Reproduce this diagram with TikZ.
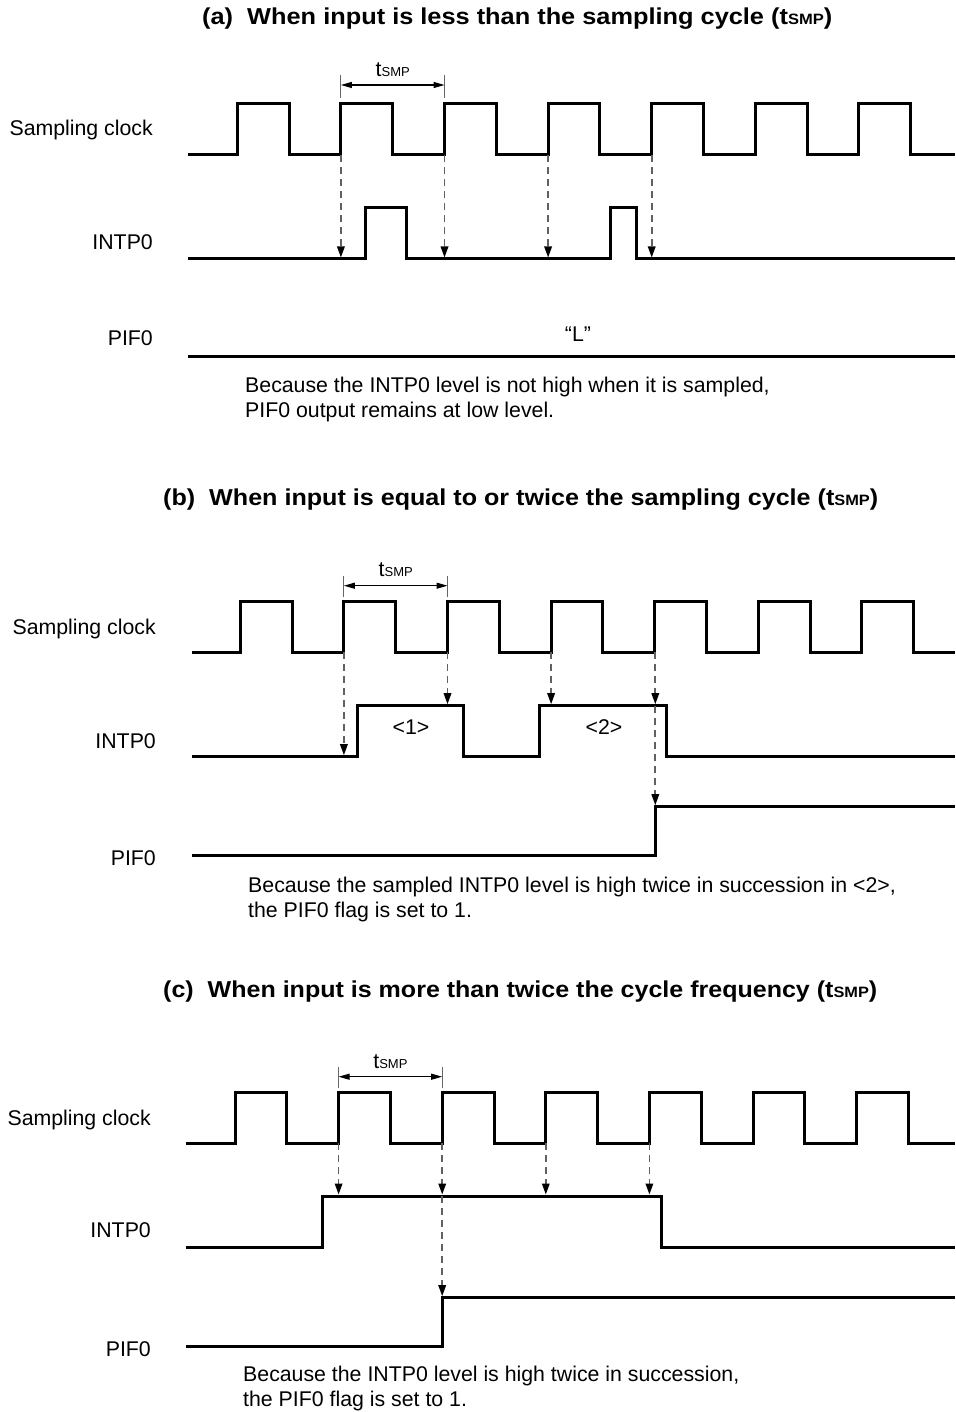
\documentclass[tikz,border=0pt]{standalone}
\usepackage{graphicx}
\usepackage{fontspec}
\setmainfont{Liberation Sans}
\usetikzlibrary{arrows.meta}
\newcommand{\sub}[1]{{\fontsize{13}{13}\selectfont #1}}
\newcommand{\tsub}[1]{{\fontsize{15}{15}\selectfont #1}}
\newcommand{\clockwave}[4]{% start x, first rise, low y, high y
  \draw[sig] (#1,#3) \foreach \k in {0,...,6} {
    -- ({#2+103.6*\k},#3) -- ({#2+103.6*\k},#4) -- ({#2+103.6*\k+51.8},#4) -- ({#2+103.6*\k+51.8},#3) } -- (955,#3);}
\begin{document}
\begin{tikzpicture}[x=1pt,y=-1pt,
  sig/.style={line width=3pt, line join=miter},
  samp/.style={dash pattern=on 7pt off 5pt, line width=1.7pt, draw=black!62,
    -{Triangle[length=11pt,width=7.5pt,color=black]}},
  dim/.style={line width=1.1pt, {Triangle[length=11pt,width=6pt]}-{Triangle[length=11pt,width=6pt]}},
  tickline/.style={line width=1pt, draw=black!60},
  lbl/.style={inner sep=0pt, font=\fontsize{21.3}{25}\selectfont, anchor=base east},
  txt/.style={inner sep=0pt, font=\fontsize{21.3}{25}\selectfont, anchor=base west},
  ttl/.style={inner sep=0pt, font=\fontsize{23}{26}\selectfont\bfseries, anchor=base west},
  midtext/.style={inner sep=0pt, font=\fontsize{21.3}{25}\selectfont, anchor=base}]
\useasboundingbox (0,0) rectangle (955,1412);
\fill[white] (0,0) rectangle (955,1412);

% ================= (a) =================
\node[ttl] (ta) at (202,25) {\resizebox{630pt}{\height}{(a)\ \ When input is less than the sampling cycle (t\tsub{SMP})}};
\node[lbl] (la1) at (153,136) {Sampling clock};
\node[lbl] (la2) at (153,250) {INTP0};
\node[lbl] (la3) at (153,345) {PIF0};
\clockwave{188}{237.3}{155}{104}
\draw[sig] (188,259) -- (365.3,259) -- (365.3,208) -- (406,208) -- (406,259) -- (610.3,259) -- (610.3,208) -- (636.7,208) -- (636.7,259) -- (955,259);
\draw[sig] (188,356) -- (955,356);
\node[midtext] (La) at (578,341) {“L”};
\foreach \i/\x in {1/340.9,2/444.5,3/548.1,4/651.7} {
  \coordinate (as\i) at (\x,155);
  \coordinate (ae\i) at (\x,257.5);
  \draw[samp] (as\i) -- (ae\i);
}
\coordinate (ka1) at (340.9,75); \coordinate (kb1) at (340.9,98);
\coordinate (ka2) at (444.5,75); \coordinate (kb2) at (444.5,98);
\draw[tickline] (ka1) -- (kb1); \draw[tickline] (ka2) -- (kb2);
\coordinate (da1) at (340.9,85); \coordinate (da2) at (444.5,85);
\draw[dim] (da1) -- (da2);
\node[midtext] (tsa) at (392.7,77) {t\sub{SMP}};
\node[txt] (xa1) at (245,392) {Because the INTP0 level is not high when it is sampled,};
\node[txt] (xa2) at (245,417) {PIF0 output remains at low level.};

% ================= (b) =================
\node[ttl] (tb) at (163,505) {\resizebox{715pt}{\height}{(b)\ \ When input is equal to or twice the sampling cycle (t\tsub{SMP})}};
\node[lbl] (lb1) at (156,634) {Sampling clock};
\node[lbl] (lb2) at (156,748) {INTP0};
\node[lbl] (lb3) at (156,865) {PIF0};
\clockwave{191.7}{240.3}{652.3}{601.7}
\draw[sig] (191.7,756.7) -- (357.3,756.7) -- (357.3,705.7) -- (463.3,705.7) -- (463.3,756.7) -- (539,756.7) -- (539,705.7) -- (666.7,705.7) -- (666.7,756.7) -- (955,756.7);
\draw[sig] (191.7,855) -- (655.3,855) -- (655.3,806.7) -- (955,806.7);
\node[midtext] (n1) at (411,734) {<1>};
\node[midtext] (n2) at (604,734) {<2>};
\coordinate (bs1) at (343.9,652.3); \coordinate (be1) at (343.9,755.2);
\coordinate (bs2) at (447.5,652.3); \coordinate (be2) at (447.5,704.2);
\coordinate (bs3) at (551.1,652.3); \coordinate (be3) at (551.1,704.2);
\coordinate (bs4) at (655.3,652.3); \coordinate (be4) at (655.3,704.2);
\coordinate (bs5) at (655.3,705.7); \coordinate (be5) at (655.3,805.2);
\foreach \i in {1,...,5} { \draw[samp] (bs\i) -- (be\i); }
\coordinate (kc1) at (343.9,576); \coordinate (kd1) at (343.9,597);
\coordinate (kc2) at (447.5,576); \coordinate (kd2) at (447.5,597);
\draw[tickline] (kc1) -- (kd1); \draw[tickline] (kc2) -- (kd2);
\coordinate (db1) at (343.9,585.7); \coordinate (db2) at (447.5,585.7);
\draw[dim] (db1) -- (db2);
\node[midtext] (tsb) at (395.7,576) {t\sub{SMP}};
\node[txt] (xb1) at (248,892) {Because the sampled INTP0 level is high twice in succession in <2>,};
\node[txt] (xb2) at (248,917) {the PIF0 flag is set to 1.};

% ================= (c) =================
\node[ttl] (tc) at (163,997) {\resizebox{714pt}{\height}{(c)\ \ When input is more than twice the cycle frequency (t\tsub{SMP})}};
\node[lbl] (lc1) at (151,1125.5) {Sampling clock};
\node[lbl] (lc2) at (151,1237.5) {INTP0};
\node[lbl] (lc3) at (151,1356) {PIF0};
\clockwave{186}{235}{1143.3}{1092.3}
\draw[sig] (186,1247.3) -- (322.3,1247.3) -- (322.3,1196) -- (661.7,1196) -- (661.7,1247.3) -- (955,1247.3);
\draw[sig] (186,1346) -- (442.7,1346) -- (442.7,1297.7) -- (955,1297.7);
\foreach \i/\x in {1/338.6,2/442.2,3/545.8,4/649.4} {
  \coordinate (cs\i) at (\x,1143.3);
  \coordinate (ce\i) at (\x,1194.5);
  \draw[samp] (cs\i) -- (ce\i);
}
\coordinate (cs5) at (442.2,1196); \coordinate (ce5) at (442.2,1296.2);
\draw[samp] (cs5) -- (ce5);
\coordinate (ke1) at (338.6,1066.7); \coordinate (kf1) at (338.6,1088);
\coordinate (ke2) at (442.2,1066.7); \coordinate (kf2) at (442.2,1088);
\draw[tickline] (ke1) -- (kf1); \draw[tickline] (ke2) -- (kf2);
\coordinate (dc1) at (338.6,1076.7); \coordinate (dc2) at (442.2,1076.7);
\draw[dim] (dc1) -- (dc2);
\node[midtext] (tsc) at (390.4,1068) {t\sub{SMP}};
\node[txt] (xc1) at (243,1381) {Because the INTP0 level is high twice in succession,};
\node[txt] (xc2) at (243,1406) {the PIF0 flag is set to 1.};
\end{tikzpicture}
\end{document}
